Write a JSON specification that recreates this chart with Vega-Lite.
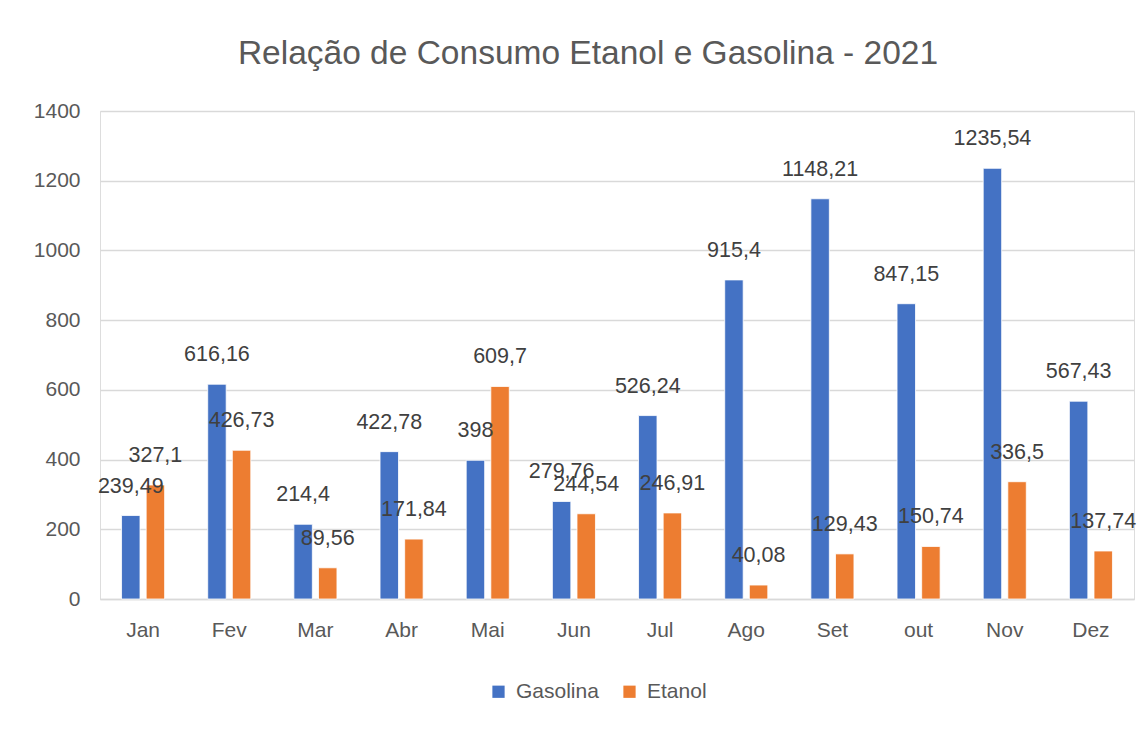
{
  "$schema": "https://vega.github.io/schema/vega-lite/v6.json",
  "autosize": {"type": "none"},
  "width": 1034,
  "height": 488,
  "padding": {"left": 100, "top": 111, "right": 5, "bottom": 131},
  "background": "white",
  "title": {
    "text": "Relação de Consumo Etanol e Gasolina - 2021",
    "font": "Liberation Sans",
    "fontSize": 33.5,
    "fontWeight": "normal",
    "color": "#595959",
    "anchor": "middle",
    "dx": -29,
    "offset": 29
  },
  "data": {
    "values": [
      {"mes": "Jan", "serie": "Gasolina", "valor": 239.49, "rotulo": "239,49"},
      {"mes": "Jan", "serie": "Etanol", "valor": 327.1, "rotulo": "327,1"},
      {"mes": "Fev", "serie": "Gasolina", "valor": 616.16, "rotulo": "616,16"},
      {"mes": "Fev", "serie": "Etanol", "valor": 426.73, "rotulo": "426,73"},
      {"mes": "Mar", "serie": "Gasolina", "valor": 214.4, "rotulo": "214,4"},
      {"mes": "Mar", "serie": "Etanol", "valor": 89.56, "rotulo": "89,56"},
      {"mes": "Abr", "serie": "Gasolina", "valor": 422.78, "rotulo": "422,78"},
      {"mes": "Abr", "serie": "Etanol", "valor": 171.84, "rotulo": "171,84"},
      {"mes": "Mai", "serie": "Gasolina", "valor": 398, "rotulo": "398"},
      {"mes": "Mai", "serie": "Etanol", "valor": 609.7, "rotulo": "609,7"},
      {"mes": "Jun", "serie": "Gasolina", "valor": 279.76, "rotulo": "279,76"},
      {"mes": "Jun", "serie": "Etanol", "valor": 244.54, "rotulo": "244,54"},
      {"mes": "Jul", "serie": "Gasolina", "valor": 526.24, "rotulo": "526,24"},
      {"mes": "Jul", "serie": "Etanol", "valor": 246.91, "rotulo": "246,91"},
      {"mes": "Ago", "serie": "Gasolina", "valor": 915.4, "rotulo": "915,4"},
      {"mes": "Ago", "serie": "Etanol", "valor": 40.08, "rotulo": "40,08"},
      {"mes": "Set", "serie": "Gasolina", "valor": 1148.21, "rotulo": "1148,21"},
      {"mes": "Set", "serie": "Etanol", "valor": 129.43, "rotulo": "129,43"},
      {"mes": "out", "serie": "Gasolina", "valor": 847.15, "rotulo": "847,15"},
      {"mes": "out", "serie": "Etanol", "valor": 150.74, "rotulo": "150,74"},
      {"mes": "Nov", "serie": "Gasolina", "valor": 1235.54, "rotulo": "1235,54"},
      {"mes": "Nov", "serie": "Etanol", "valor": 336.5, "rotulo": "336,5"},
      {"mes": "Dez", "serie": "Gasolina", "valor": 567.43, "rotulo": "567,43"},
      {"mes": "Dez", "serie": "Etanol", "valor": 137.74, "rotulo": "137,74"}
    ]
  },
  "encoding": {
    "x": {
      "field": "mes",
      "type": "nominal",
      "sort": ["Jan", "Fev", "Mar", "Abr", "Mai", "Jun", "Jul", "Ago", "Set", "out", "Nov", "Dez"],
      "scale": {"paddingInner": 0.5, "paddingOuter": 0.25},
      "axis": {
        "title": null,
        "labelAngle": 0,
        "labelFont": "Liberation Sans",
        "labelFontSize": 21,
        "labelColor": "#595959",
        "labelPadding": 20,
        "ticks": false,
        "domainColor": "#d9d9d9",
        "domainWidth": 1.3,
        "grid": false
      }
    },
    "xOffset": {
      "field": "serie",
      "type": "nominal",
      "sort": ["Gasolina", "Etanol"],
      "scale": {"paddingInner": 0.25, "paddingOuter": 0}
    },
    "y": {
      "field": "valor",
      "type": "quantitative",
      "scale": {"domain": [0, 1400], "nice": false},
      "axis": {
        "title": null,
        "values": [0, 200, 400, 600, 800, 1000, 1200, 1400],
        "format": "d",
        "labelFont": "Liberation Sans",
        "labelFontSize": 21,
        "labelColor": "#595959",
        "labelPadding": 20,
        "ticks": false,
        "domain": false,
        "gridColor": "#d9d9d9",
        "gridWidth": 1.3
      }
    }
  },
  "layer": [
    {
      "mark": {"type": "bar", "stroke": "white", "strokeWidth": 0.8},
      "encoding": {
        "color": {
          "field": "serie",
          "type": "nominal",
          "scale": {"domain": ["Gasolina", "Etanol"], "range": ["#4472C4", "#ED7D31"]},
          "legend": {
            "title": null,
            "orient": "none",
            "direction": "horizontal",
            "legendX": 388,
            "legendY": 570,
            "symbolType": "square",
            "symbolSize": 150,
            "symbolStrokeWidth": 0,
            "labelFont": "Liberation Sans",
            "labelFontSize": 21,
            "labelColor": "#595959",
            "labelOffset": 7,
            "columnPadding": 20
          }
        }
      }
    },
    {
      "mark": {
        "type": "text",
        "font": "Liberation Sans",
        "fontSize": 21.5,
        "color": "#404040",
        "baseline": "middle",
        "align": "center",
        "dy": -29
      },
      "encoding": {"text": {"field": "rotulo", "type": "nominal"}}
    }
  ]
}
